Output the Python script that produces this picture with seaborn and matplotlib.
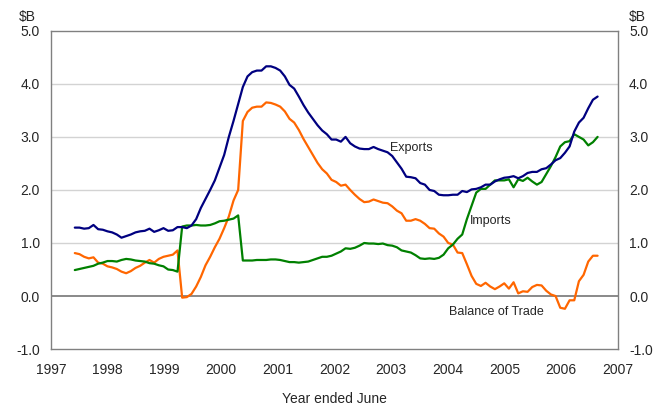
import numpy as np
import pandas as pd
import matplotlib
matplotlib.use("Agg")
import matplotlib.pyplot as plt
import seaborn as sns

# Monthly series ($B), first reading around mid 1997, last around mid 2006
FIRST_T = 1997.42
LAST_T = 2006.64

exports = [
    1.29, 1.29, 1.27, 1.28, 1.34, 1.26, 1.25, 1.22, 1.20, 1.16,
    1.10, 1.13, 1.16, 1.20, 1.22, 1.23, 1.27, 1.21, 1.24, 1.28,
    1.23, 1.24, 1.30, 1.30, 1.28, 1.33, 1.45, 1.66, 1.83, 2.00,
    2.18, 2.42, 2.66, 3.00, 3.30, 3.62, 3.94, 4.14, 4.22, 4.25,
    4.25, 4.33, 4.33, 4.30, 4.25, 4.14, 3.98, 3.91, 3.76, 3.60,
    3.46, 3.34, 3.22, 3.12, 3.05, 2.95, 2.95, 2.91, 3.00, 2.88,
    2.82, 2.78, 2.77, 2.77, 2.81, 2.77, 2.74, 2.71, 2.64, 2.52,
    2.40, 2.25, 2.24, 2.22, 2.13, 2.10, 2.00, 1.98, 1.91, 1.90,
    1.90, 1.91, 1.91, 1.98, 1.96, 2.01, 2.02, 2.05, 2.10, 2.10,
    2.16, 2.20, 2.23, 2.24, 2.26, 2.22, 2.26, 2.32, 2.34, 2.34,
    2.39, 2.41, 2.48, 2.56, 2.60, 2.70, 2.82, 3.10, 3.27, 3.36,
    3.54, 3.70, 3.76,
]

imports = [
    0.49, 0.51, 0.53, 0.55, 0.57, 0.61, 0.63, 0.66, 0.66, 0.65,
    0.68, 0.70, 0.69, 0.67, 0.66, 0.65, 0.62, 0.61, 0.58, 0.56,
    0.50, 0.49, 0.46, 1.31, 1.33, 1.33, 1.34, 1.33, 1.33, 1.34,
    1.37, 1.41, 1.42, 1.44, 1.46, 1.52, 0.67, 0.67, 0.67, 0.68,
    0.68, 0.68, 0.69, 0.69, 0.68, 0.66, 0.64, 0.64, 0.63, 0.64,
    0.65, 0.68, 0.71, 0.74, 0.74, 0.76, 0.80, 0.84, 0.90, 0.89,
    0.91, 0.95, 1.00, 0.99, 0.99, 0.98, 0.99, 0.96, 0.95, 0.92,
    0.86, 0.84, 0.82, 0.77, 0.71, 0.70, 0.71, 0.70, 0.72, 0.78,
    0.90, 0.97, 1.08, 1.16, 1.45, 1.70, 1.95, 2.02, 2.02, 2.10,
    2.18, 2.18, 2.18, 2.20, 2.05, 2.20, 2.17, 2.23, 2.16, 2.10,
    2.15, 2.30, 2.45, 2.62, 2.82, 2.90, 2.92, 3.05, 3.00, 2.95,
    2.84, 2.90, 3.00,
]

balance = [
    0.81, 0.79, 0.74, 0.71, 0.73, 0.63, 0.61, 0.56, 0.54, 0.51,
    0.46, 0.43, 0.47, 0.53, 0.57, 0.63, 0.68, 0.63, 0.70, 0.74,
    0.76, 0.78, 0.86, -0.03, -0.02, 0.04, 0.18, 0.36, 0.58, 0.74,
    0.92, 1.08, 1.28, 1.50, 1.80, 2.00, 3.30, 3.47, 3.55, 3.57,
    3.57, 3.65, 3.64, 3.61, 3.57, 3.48, 3.34, 3.27, 3.13, 2.96,
    2.81, 2.66, 2.51, 2.39, 2.31, 2.19, 2.15, 2.08, 2.10, 2.00,
    1.91, 1.83, 1.77, 1.78, 1.82, 1.79, 1.76, 1.75, 1.69, 1.61,
    1.56, 1.42, 1.42, 1.45, 1.42, 1.36, 1.28, 1.27, 1.18, 1.12,
    1.00, 0.97, 0.82, 0.81, 0.60, 0.38, 0.23, 0.19, 0.25, 0.18,
    0.13, 0.18, 0.24, 0.14, 0.26, 0.05, 0.09, 0.08, 0.17, 0.21,
    0.20, 0.10, 0.03, 0.00, -0.22, -0.24, -0.08, -0.08, 0.28, 0.40,
    0.65, 0.76, 0.76,
]

year_ticks = list(range(1997, 2008))
y_ticks = [-1.0, 0.0, 1.0, 2.0, 3.0, 4.0, 5.0]

colours = {"Exports": "#000080", "Imports": "#008000", "Balance of Trade": "#FF6600"}

t = np.linspace(FIRST_T, LAST_T, len(exports))
df = pd.concat([
    pd.DataFrame({"t": t, "value": exports, "series": "Exports"}),
    pd.DataFrame({"t": t, "value": imports, "series": "Imports"}),
    pd.DataFrame({"t": t, "value": balance, "series": "Balance of Trade"}),
])

sns.set_style("white")
plt.rcParams["font.family"] = ["Liberation Sans", "DejaVu Sans"]

fig = plt.figure(figsize=(6.7, 4.05), dpi=100)
ax = fig.add_axes([0.0761, 0.138, 0.8463, 0.786])

# grid lines first so the series sit on top
for v in [1.0, 2.0, 3.0, 4.0]:
    ax.axhline(v, color="#D3D3D3", lw=1.0, zorder=0)
ax.axhline(0.0, color="#808080", lw=1.3, zorder=1)

sns.lineplot(data=df, x="t", y="value", hue="series", palette=colours,
             hue_order=["Balance of Trade", "Imports", "Exports"],
             lw=1.6, legend=False, ax=ax, zorder=3)

ax.set_xlim(1997, 2007)
ax.set_ylim(-1.0, 5.0)
ax.set_xticks(year_ticks)
ax.set_xticklabels([str(y) for y in year_ticks])
ax.set_yticks(y_ticks)
ax.set_yticklabels([f"{v:.1f}" for v in y_ticks])
ax.tick_params(axis="y", length=0, pad=8, labelsize=10, labelright=True)
ax.tick_params(axis="x", length=0, pad=10, labelsize=10)
ax.set_xlabel("Year ended June", fontsize=10, labelpad=11)
ax.set_ylabel("")

for side in ["top", "bottom", "left", "right"]:
    ax.spines[side].set_color("#808080")
    ax.spines[side].set_linewidth(1.0)

ax.text(2002.98, 2.80, "Exports", fontsize=9, va="center", ha="left")
ax.text(2004.39, 1.41, "Imports", fontsize=9, va="center", ha="left")
ax.text(2004.02, -0.30, "Balance of Trade", fontsize=9, va="center", ha="left")

fig.text(0.0276, 0.957, "$B", fontsize=10, ha="left", va="center")
fig.text(0.939, 0.957, "$B", fontsize=10, ha="left", va="center")

fig.savefig("out.png", dpi=100)
